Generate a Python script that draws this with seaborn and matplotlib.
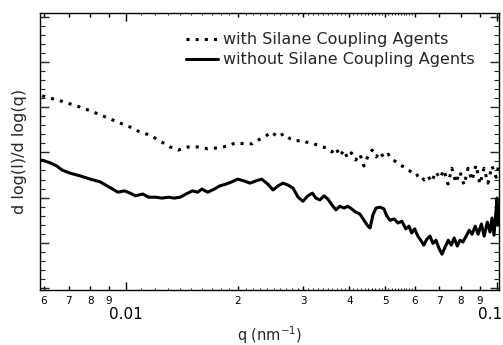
import matplotlib
matplotlib.use("Agg")
import matplotlib.pyplot as plt
import matplotlib.transforms as mtransforms
from matplotlib.ticker import FixedLocator, FixedFormatter, NullFormatter, MultipleLocator
from matplotlib.lines import Line2D
import seaborn as sns
import pandas as pd

# ---- data ----
q_with = [0.00594, 0.00624, 0.00664, 0.00707, 0.00752, 0.00800, 0.00851, 0.00905, 0.00963,
          0.01025, 0.01091, 0.01161, 0.01235, 0.01314, 0.0138, 0.0147, 0.0156, 0.0166, 0.0177,
          0.0188, 0.0197, 0.0208, 0.0219, 0.0227, 0.0238, 0.0247, 0.0256, 0.0266, 0.0277,
          0.0287, 0.0298, 0.0310, 0.0321, 0.0333, 0.0346, 0.0359, 0.0368, 0.0377, 0.0387,
          0.0395, 0.0405, 0.0416, 0.0427, 0.0438, 0.0450, 0.0461, 0.0473, 0.0484, 0.0496,
          0.0509, 0.0521, 0.0535, 0.0548, 0.0561, 0.0575, 0.0589, 0.0604, 0.0620, 0.0636,
          0.0651, 0.0667, 0.0684, 0.0702, 0.0720, 0.0738, 0.0756, 0.0775, 0.0795, 0.0815,
          0.0836, 0.0857, 0.0878, 0.0900, 0.0923, 0.0946, 0.0970, 0.0995, 0.1013]
v_with = [4.25, 4.20, 4.14, 4.07, 4.00, 3.92, 3.83, 3.74, 3.65,
          3.56, 3.45, 3.38, 3.25, 3.12, 3.05, 3.12, 3.12, 3.08, 3.10,
          3.14, 3.21, 3.19, 3.19, 3.27, 3.36, 3.45, 3.34, 3.41, 3.30,
          3.25, 3.27, 3.21, 3.19, 3.14, 3.10, 3.01, 3.10, 2.92, 3.05,
          2.88, 2.99, 2.83, 2.96, 2.70, 2.94, 3.05, 2.90, 3.01, 2.88,
          2.96, 2.85, 2.79, 2.72, 2.68, 2.61, 2.57, 2.48, 2.52, 2.39,
          2.48, 2.35, 2.57, 2.43, 2.61, 2.30, 2.65, 2.33, 2.57, 2.28,
          2.65, 2.38, 2.72, 2.30, 2.65, 2.32, 2.70, 2.45, 2.74]

q_without = [0.00594, 0.00624, 0.0065, 0.00672, 0.00707, 0.00752, 0.00800, 0.00851, 0.0088,
             0.0092, 0.0095, 0.0099, 0.01025, 0.0106, 0.0111, 0.0115, 0.0120, 0.0125, 0.0130,
             0.0135, 0.0140, 0.0145, 0.0151, 0.0156, 0.0160, 0.0166, 0.0173, 0.0179, 0.0186,
             0.0193, 0.0200, 0.0208, 0.0216, 0.0224, 0.0232, 0.0241, 0.0249, 0.0257, 0.0265,
             0.0273, 0.0282, 0.0291, 0.0300, 0.0309, 0.0318, 0.0325, 0.0333, 0.0342, 0.0350,
             0.0359, 0.0368, 0.0377, 0.0387, 0.0396, 0.0406, 0.0416, 0.0427, 0.0438, 0.0449,
             0.0455, 0.0463, 0.0472, 0.0484, 0.0496, 0.0505, 0.0515, 0.0528, 0.0541, 0.0554,
             0.0568, 0.0579, 0.0589, 0.0600, 0.0612, 0.0623, 0.0635, 0.0647, 0.0660, 0.0672,
             0.0685, 0.0698, 0.0711, 0.0725, 0.0739, 0.0753, 0.0767, 0.0782, 0.0795, 0.0810,
             0.0826, 0.0842, 0.0857, 0.0874, 0.0890, 0.0908, 0.0924, 0.0942, 0.0958, 0.0970,
             0.0982, 0.0995, 0.1000, 0.1006, 0.1013]
v_without = [2.83, 2.77, 2.70, 2.61, 2.54, 2.48, 2.41, 2.35, 2.28,
             2.19, 2.12, 2.15, 2.10, 2.04, 2.08, 2.01, 2.01, 1.99, 2.01,
             1.99, 2.01, 2.08, 2.15, 2.12, 2.19, 2.12, 2.19, 2.26, 2.30,
             2.35, 2.41, 2.37, 2.32, 2.37, 2.41, 2.30, 2.17, 2.26, 2.32,
             2.28, 2.21, 2.01, 1.92, 2.04, 2.10, 1.99, 1.95, 2.04, 1.97,
             1.84, 1.73, 1.81, 1.77, 1.81, 1.75, 1.68, 1.64, 1.50, 1.37,
             1.33, 1.62, 1.77, 1.79, 1.75, 1.59, 1.50, 1.53, 1.44, 1.48,
             1.31, 1.37, 1.22, 1.31, 1.15, 1.06, 0.95, 1.08, 1.15, 0.99,
             1.06, 0.88, 0.75, 0.91, 1.06, 0.95, 1.11, 0.93, 1.06, 1.02,
             1.15, 1.28, 1.19, 1.37, 1.19, 1.42, 1.15, 1.46, 1.24, 1.55,
             1.17, 1.73, 1.99, 1.39, 1.84]

series_labels = ["with Silane Coupling Agents", "without Silane Coupling Agents"]

x_major_locs = [0.006, 0.007, 0.008, 0.009, 0.01, 0.02, 0.03, 0.04, 0.05, 0.06, 0.07, 0.08, 0.09, 0.1]
x_major_labels = ["6", "7", "8", "9", "0.01", "2", "3", "4", "5", "6", "7", "8", "9", "0.1"]
decade_labels = ["0.01", "0.1"]
x_small_locs = [round(0.001 * k, 3) for k in range(11, 60) if k % 10 != 0]

xlabel = r"q (nm$^{-1}$)"
ylabel = "d log(I)/d log(q)"

# ---- figure ----
sns.set_style("ticks")
plt.rcParams["font.family"] = ["DejaVu Sans"]
plt.rcParams["mathtext.default"] = "regular"

W, H = 503, 345
fig = plt.figure(figsize=(W / 100, H / 100), dpi=100)
L, R, T, B = 40, 499, 12.5, 290
ax = fig.add_axes([L / W, (H - B) / H, (R - L) / W, (B - T) / H])
ax.set_xscale("log")

df_with = pd.DataFrame({"q": q_with, "v": v_with})
df_without = pd.DataFrame({"q": q_without, "v": v_without})
sns.lineplot(data=df_with, x="q", y="v", ax=ax, color="black", lw=2.2,
             linestyle=(0, (1, 2)), dash_capstyle="butt", estimator=None, sort=False)
sns.lineplot(data=df_without, x="q", y="v", ax=ax, color="black", lw=2.2,
             estimator=None, sort=False)

ax.set_xlim(0.00586, 0.1013)
ax.set_ylim(-0.04, 6.09)

for s in ax.spines.values():
    s.set_linewidth(1.0)
    s.set_color("black")

ax.xaxis.set_major_locator(FixedLocator(x_major_locs))
ax.xaxis.set_major_formatter(FixedFormatter(x_major_labels))
ax.xaxis.set_minor_locator(FixedLocator(x_small_locs))
ax.xaxis.set_minor_formatter(NullFormatter())
ax.tick_params(axis="x", which="major", direction="in", length=2.6, width=1,
               top=True, bottom=True, labelsize=7.5, pad=4.3, colors="black")
ax.tick_params(axis="x", which="minor", direction="in", length=1.5, width=0.8,
               top=True, bottom=True)

ax.yaxis.set_major_locator(MultipleLocator(1))
ax.yaxis.set_minor_locator(MultipleLocator(0.2))
ax.tick_params(axis="y", which="major", direction="in", length=6.5, width=1,
               left=True, right=True, labelleft=False)
ax.tick_params(axis="y", which="minor", direction="in", length=3.6, width=0.8,
               left=True, right=True)

ticks = ax.xaxis.get_major_ticks(len(x_major_locs))
for tk, lab in zip(ticks, x_major_labels):
    if lab in decade_labels:
        tk._apply_params(size=6, pad=12.5, labelsize=11)
    if lab == "0.1":
        tk.label1.set_horizontalalignment("right")
        tk.label1.set_transform(tk.label1.get_transform() +
                                mtransforms.ScaledTranslation(4 / 72, 0, fig.dpi_scale_trans))

ax.set_xlabel(xlabel, fontsize=10.5, labelpad=1.5)
ax.set_ylabel(ylabel, fontsize=11.5, labelpad=6)

handles = [Line2D([], [], color="black", lw=2.2, linestyle=(0, (1, 2))),
           Line2D([], [], color="black", lw=2.2)]
ax.legend(handles, series_labels, loc="upper left", bbox_to_anchor=(0.318, 0.928),
          frameon=False, fontsize=11.5, handlelength=2.0, handletextpad=0.3,
          labelspacing=0.3, borderpad=0, borderaxespad=0)

fig.savefig("out.png", dpi=100)
